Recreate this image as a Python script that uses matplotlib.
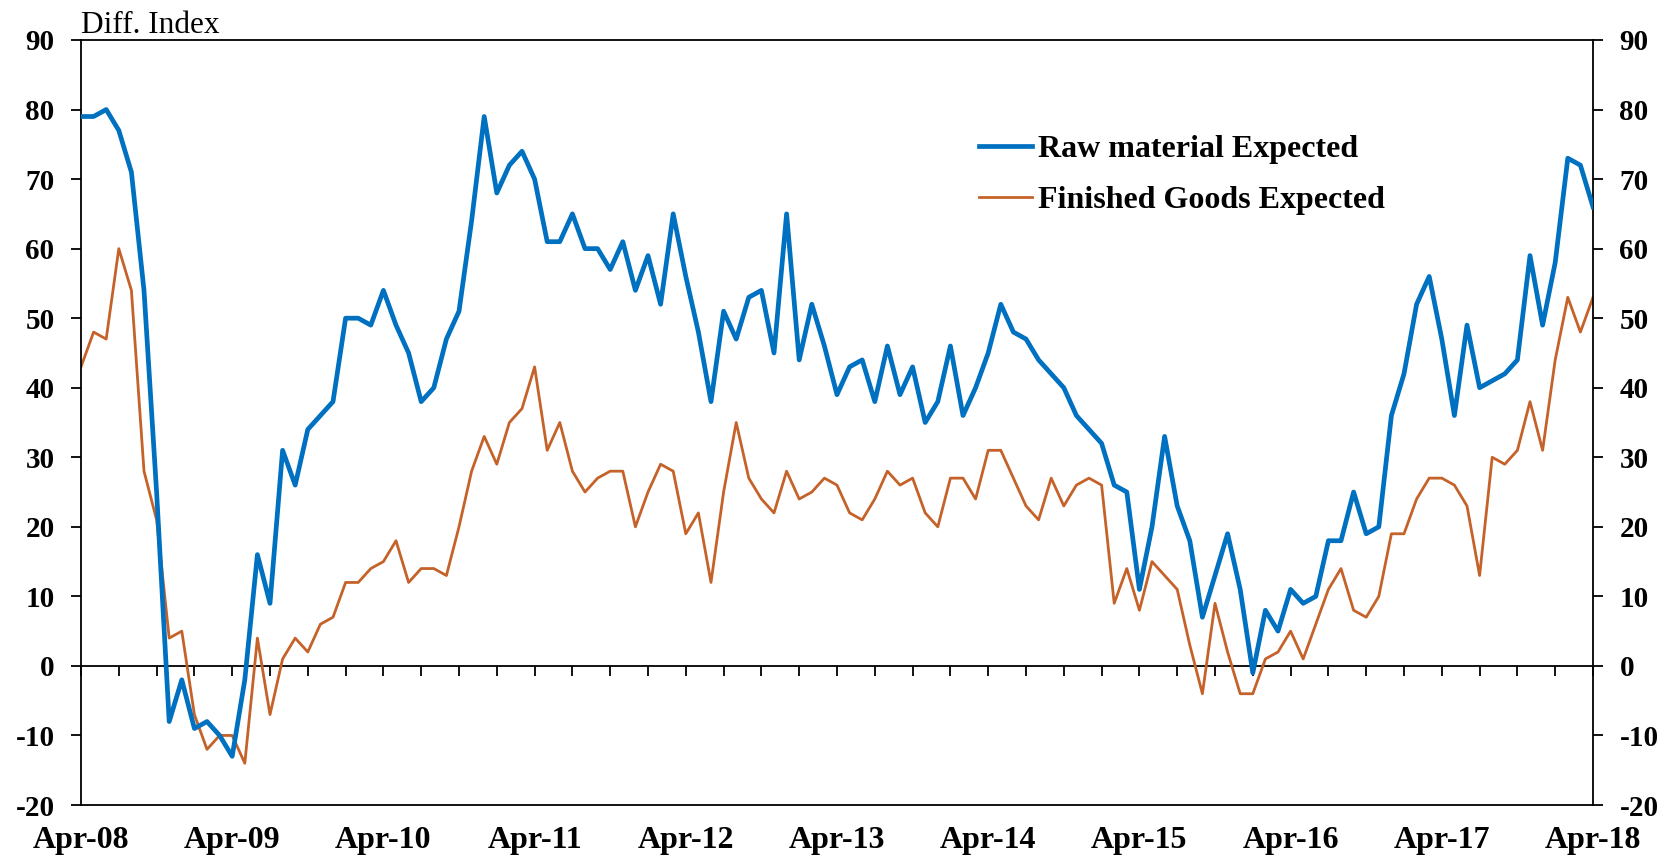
import numpy as np
import pandas as pd
import matplotlib
matplotlib.use("Agg")
import matplotlib.pyplot as plt
from matplotlib.ticker import FuncFormatter

plt.rcParams["font.family"] = ["Liberation Serif", "DejaVu Serif"]

# monthly survey, Apr-2008 .. Apr-2018
months = pd.date_range("2008-04-01", "2018-04-01", freq="MS")

raw_expected = [
    79, 79, 80, 77, 71, 54, 25, -8, -2, -9, -8, -10, -13, -2, 16, 9, 31, 26, 34, 36, 38,
    50, 50, 49, 54, 49, 45, 38, 40, 47, 51, 64, 79, 68, 72, 74, 70, 61, 61, 65, 60,
    60, 57, 61, 54, 59, 52, 65, 56, 48, 38, 51, 47, 53, 54, 45, 65, 44, 52, 46, 39,
    43, 44, 38, 46, 39, 43, 35, 38, 46, 36, 40, 45, 52, 48, 47, 44, 42, 40, 36, 34,
    32, 26, 25, 11, 20, 33, 23, 18, 7, 13, 19, 11, -1, 8, 5, 11, 9, 10, 18, 18,
    25, 19, 20, 36, 42, 52, 56, 47, 36, 49, 40, 41, 42, 44, 59, 49, 58, 73, 72, 66,
]
finished_expected = [
    43, 48, 47, 60, 54, 28, 21, 4, 5, -7, -12, -10, -10, -14, 4, -7, 1, 4, 2, 6, 7,
    12, 12, 14, 15, 18, 12, 14, 14, 13, 20, 28, 33, 29, 35, 37, 43, 31, 35, 28, 25,
    27, 28, 28, 20, 25, 29, 28, 19, 22, 12, 25, 35, 27, 24, 22, 28, 24, 25, 27, 26,
    22, 21, 24, 28, 26, 27, 22, 20, 27, 27, 24, 31, 31, 27, 23, 21, 27, 23, 26, 27,
    26, 9, 14, 8, 15, 13, 11, 3, -4, 9, 2, -4, -4, 1, 2, 5, 1, 6, 11, 14,
    8, 7, 10, 19, 19, 24, 27, 27, 26, 23, 13, 30, 29, 31, 38, 31, 44, 53, 48, 53,
]
y_ticks = list(range(-20, 91, 10))

x = np.arange(len(months))
year_pos = x[::12]
year_lab = [d.strftime("%b-%y") for d in months[::12]]

fig = plt.figure(figsize=(16.67, 8.61), dpi=100)
ax = fig.add_axes([81 / 1667, 1 - 805 / 861, (1593 - 81) / 1667, (805 - 40) / 861])

ax.plot(x, raw_expected, color="#0070C0", lw=3.4, label="Raw material Expected", zorder=3)
ax.plot(x, finished_expected, color="#C5622A", lw=2.0, label="Finished Goods Expected", zorder=2)

ax.set_xlim(0, len(x) - 1)
ax.set_ylim(-20, 90)
ax.set_yticks(y_ticks)
ax.yaxis.set_major_formatter(FuncFormatter(lambda v, _: f"{v:.0f}"))  # plain hyphen minus
for s in ax.spines.values():
    s.set_linewidth(1.3)

ax.tick_params(axis="y", direction="out", length=7, width=1.3,
               left=True, right=True, labelleft=True, labelright=True,
               labelsize=21, pad=12)
for t in ax.yaxis.get_major_ticks():
    t.label1.set_fontweight("bold")
    t.label2.set_fontweight("bold")

# year labels sit under the frame, no tick marks there
ax.set_xticks(year_pos)
ax.set_xticklabels(year_lab, fontsize=23, fontweight="bold")
ax.tick_params(axis="x", length=0, pad=15)

# zero line carries the quarterly tick marks
zero = ax.secondary_xaxis(20 / 110)
zero.set_xticks(x[::3])
zero.set_xticklabels([])
zero.tick_params(direction="out", length=7, width=1.3)
zero.spines["bottom"].set_linewidth(1.3)

fig.text(81 / 1667, 1 - 33 / 861, "Diff. Index", fontsize=22.5, ha="left", va="baseline")

ax.legend(loc="upper left", bbox_to_anchor=(979 / 1667, 1 - 135 / 861),
          bbox_transform=fig.transFigure, frameon=False, borderpad=0, borderaxespad=0,
          handlelength=1.65, handletextpad=0.2, labelspacing=0.67,
          prop=dict(family="Liberation Serif", weight="bold", size=23))

fig.savefig("out.png", dpi=100)
